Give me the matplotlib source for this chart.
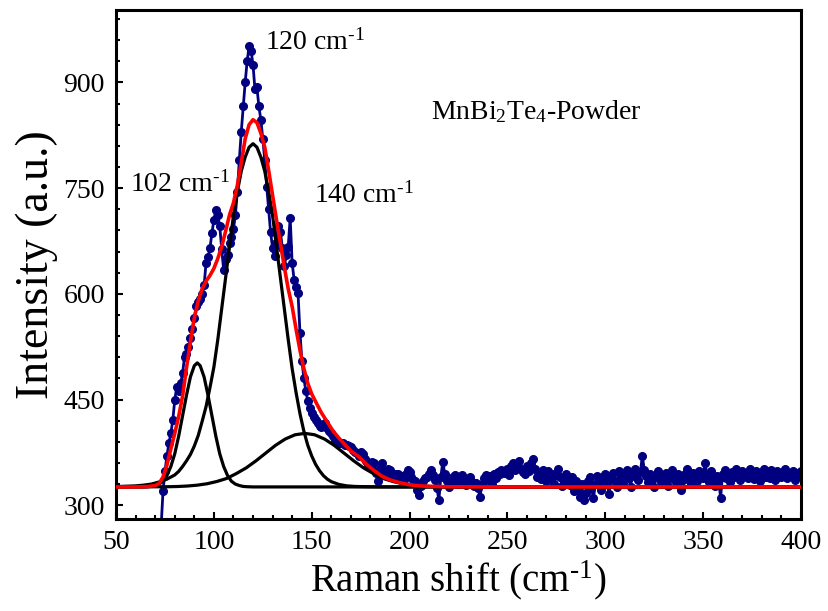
import numpy as np
import matplotlib
matplotlib.use('Agg')
import matplotlib.pyplot as plt
from matplotlib.ticker import MultipleLocator

plt.rcParams['font.family'] = 'Liberation Serif'
plt.rcParams['mathtext.fontset'] = 'custom'
plt.rcParams['mathtext.rm'] = 'Liberation Serif'
plt.rcParams['mathtext.it'] = 'Liberation Serif:italic'

# measured spectrum, 1 cm-1 steps starting at 73 cm-1
raman_start = 73
intensity = [
    268, 320, 348, 370, 388, 402, 421, 449, 468, 462,
    473, 487, 511, 515, 525, 538, 550, 566, 582, 588,
    592, 600, 612, 644, 652, 665, 686, 705, 719, 712,
    696, 663, 634, 650, 655, 672, 680, 692, 712, 745,
    790, 830, 866, 900, 930, 951, 945, 925, 890, 893,
    866, 847, 820, 790, 752, 720, 687, 665, 653, 672,
    696, 688, 665, 639, 655, 667, 708, 644, 620, 610,
    601, 545, 505, 480, 462, 448, 438, 431, 425, 421,
    416, 413, 411, 414, 416, 410, 405, 402, 398, 393,
    391, 389, 388, 388, 386, 385, 384, 383, 378, 376,
    374, 370, 375, 373, 366, 363, 357, 354, 362, 360,
    346, 335, 352, 360, 349, 343, 352,
    350, 345, 338, 344, 345, 338, 342, 336, 344, 350,
    347, 340, 336, 335, 322, 314, 328, 335, 338, 340,
    345, 350, 343, 336, 325, 307, 340, 362, 345, 335,
    326, 333, 340, 343, 336, 330, 338, 343, 335, 329,
    336, 340, 333, 327, 332, 325, 312, 330, 338, 343,
    336, 341, 330, 345, 338, 347, 344, 350, 349, 346,
    352, 343, 355, 360, 350, 358, 363, 352, 347, 344,
    355, 348, 360, 366, 352, 340, 345, 337, 350, 342,
    334, 348, 338, 345, 330, 343, 351, 340, 327, 336,
    345, 338, 329, 340, 320, 335, 327, 312, 330, 308,
    318, 335, 340, 325, 310, 330, 342, 335, 322, 338,
    345, 330, 316, 340, 346, 335, 326, 348, 340, 331,
    344, 350, 338, 326, 345, 352, 340, 336, 347, 370,
    350, 341, 333, 345, 338, 326, 342, 349, 336, 330,
    340, 346, 327, 338, 350, 343, 333, 345, 339, 321,
    336, 344, 351, 337, 330, 346, 340, 334, 348, 342,
    338, 360, 345, 333, 348, 340, 327, 342, 337, 310,
    345, 350, 338, 344, 333, 347, 340, 352, 345, 336,
    349, 341, 346, 338, 351, 344, 337, 348, 342, 335,
    347, 352, 340, 345, 338, 350, 344, 336, 349, 342,
    340, 347, 351, 338, 345, 341, 349, 336, 346, 343,
    348,
]
shift = np.arange(raman_start, raman_start + len(intensity))

# cumulative fit (red)
fit_x = [50, 60, 66, 70, 72, 74, 76, 78, 80, 82, 84, 86, 88, 90, 92, 94, 96, 98,
         100, 102, 104, 106, 108, 110, 112, 114, 116, 118, 120, 122, 124, 126,
         128, 130, 132, 134, 136, 138, 140, 142, 144, 146, 148, 150, 152, 155,
         158, 161, 164, 167, 170, 174, 178, 182, 186, 190, 195, 200, 205, 210,
         220, 240, 300, 400]
fit_y = [326, 326, 326.5, 328, 331, 340, 357, 380, 402, 426, 455, 495, 532, 566,
         590, 607, 618, 626, 636, 650, 667, 689, 712, 729, 754, 786, 820, 840,
         847, 843, 828, 808, 775, 740, 705, 672, 638, 607, 582, 550, 520, 494,
         473, 458, 447, 431, 418, 405, 395, 386, 377, 369, 358, 349, 341, 336,
         332, 329, 327.5, 326.8, 326.2, 326, 326, 326]

# component near 92 cm-1
p1_x = [50, 64, 66, 68, 70, 72, 74, 76, 78, 80, 82, 84, 86, 88, 90, 91.5, 93, 95,
        97, 99, 101, 103, 105, 107, 109, 111, 113, 115, 117, 120, 400]
p1_y = [326, 326, 326.3, 326.7, 328, 330, 334, 342, 355, 373, 398, 427, 456, 482,
        498, 502, 498, 482, 456, 427, 398, 373, 355, 342, 334, 330, 328, 326.7,
        326.3, 326, 326]

# component near 120 cm-1
p2_x = [50, 60, 64, 68, 72, 76, 80, 82, 84, 86, 88, 90, 92, 94, 96, 98, 100, 102,
        104, 106, 108, 110, 112, 114, 116, 118, 120, 122, 124, 126, 128, 130, 132,
        134, 136, 138, 140, 142, 144, 146, 148, 150, 152, 154, 156, 158, 160, 164,
        168, 172, 180, 190, 400]
p2_y = [326.5, 327.5, 328.5, 330, 333, 337, 343, 348, 355, 363, 372, 384, 399, 419,
        440, 467, 496, 535, 579, 623, 667, 711, 745, 774, 794, 808, 813, 808, 794,
        774, 745, 711, 667, 623, 579, 535, 494, 460, 430, 405, 385, 370, 358, 349,
        342, 337, 333.5, 329.5, 327.5, 326.7, 326.2, 326, 326]

# component near 147 cm-1
p3_x = [50, 76.5, 81.5, 86.5, 91.5, 96.5, 101.5, 106.5, 111.5, 116.5, 121.5, 126.5,
        131.5, 136.5, 141.5, 146.5, 151.5, 156.5, 161.5, 166.5, 171.5, 176.5,
        181.5, 186.5, 191.5, 196.5, 201.5, 206.5, 211.5, 216.5, 230, 400]
p3_y = [326, 326.3, 326.6, 327.3, 328.5, 330.5, 333.7, 338, 345, 353, 363, 374, 385,
        394, 400, 402, 400, 394, 385, 374, 363, 353, 345, 338, 333.7, 330.5, 328.5,
        327.3, 326.6, 326.3, 326, 326]

fig = plt.figure(figsize=(8.29, 6.11), dpi=100)
ax = fig.add_axes([0.140, 0.150, 0.826, 0.834])

ax.plot(shift, intensity, '-o', color='#000080', lw=2.0, ms=5.5, zorder=2)
for cx, cy in [(p1_x, p1_y), (p2_x, p2_y), (p3_x, p3_y)]:
    ax.plot(cx, cy, color='black', lw=2.3, zorder=3)
ax.plot(fit_x, fit_y, color='red', lw=2.6, zorder=4)

ax.set_xlim(50, 400)
ax.set_ylim(280, 1003)
ax.xaxis.set_major_locator(MultipleLocator(50))
ax.xaxis.set_minor_locator(MultipleLocator(10))
ax.yaxis.set_major_locator(MultipleLocator(150))
ax.yaxis.set_minor_locator(MultipleLocator(30))
ax.tick_params(which='both', direction='in', width=1.5, labelsize=20)
ax.tick_params(which='major', length=5, pad=8)
ax.tick_params(which='minor', length=3)
for sp in ax.spines.values():
    sp.set_linewidth(2.2)

# superscript -1 with a plain hyphen, as in the original
sup = '$^{\\mathregular{\u20101}}$'
ax.set_xlabel('Raman shift (cm' + sup + ')', fontsize=28, labelpad=2)
ax.set_ylabel('Intensity (a.u.)', fontsize=33, labelpad=4)

ax.text(126, 957, '120 cm' + sup, fontsize=20, va='center')
ax.text(57, 755, '102 cm' + sup, fontsize=20, va='center')
ax.text(151, 739, '140 cm' + sup, fontsize=20, va='center')
ax.text(211, 859, r'MnBi$_{\mathregular{2}}$Te$_{\mathregular{4}}$-Powder',
        fontsize=20, va='center')

fig.savefig('out.png', dpi=100)
